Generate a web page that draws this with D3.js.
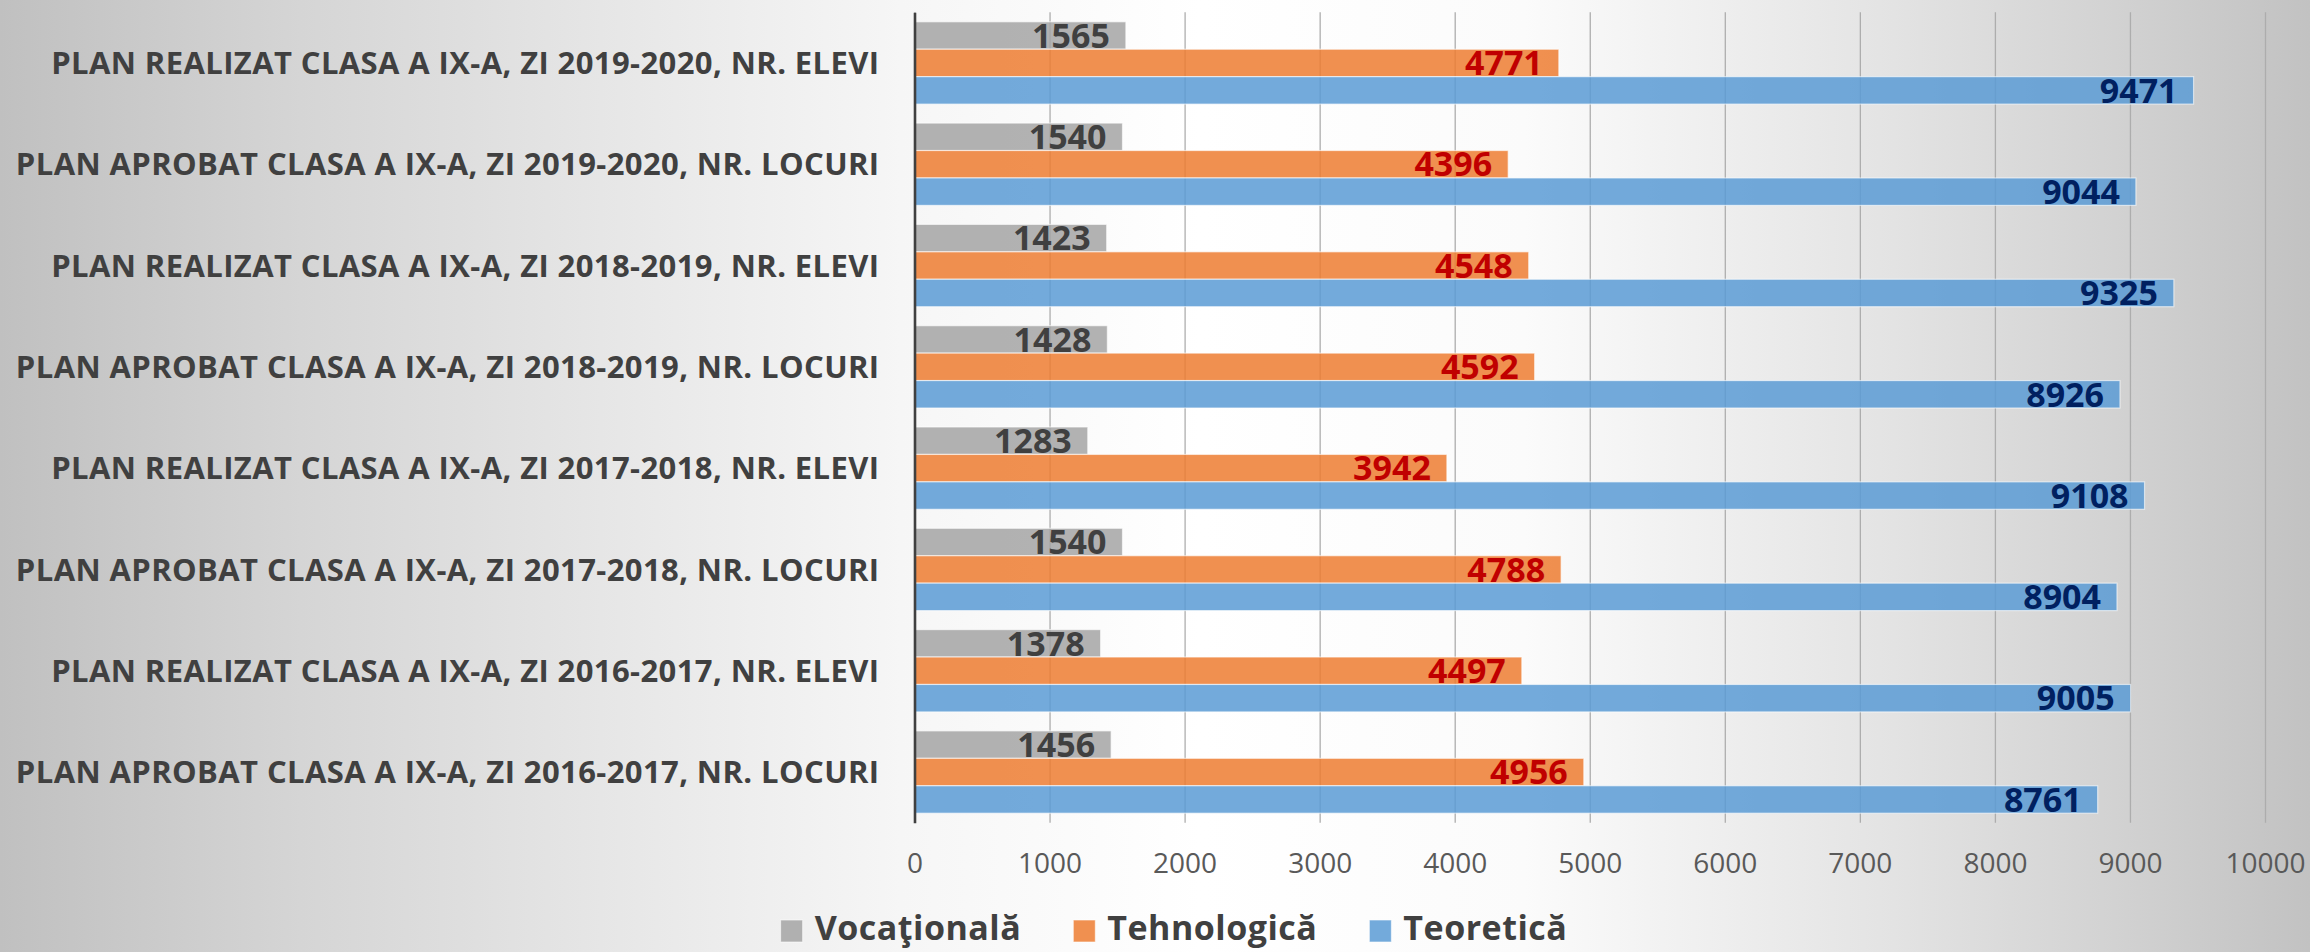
<!DOCTYPE html>
<html><head><meta charset="utf-8">
<script src="https://cdn.jsdelivr.net/npm/d3@7"></script>
<style>
html,body{margin:0;padding:0;overflow:hidden;background:#fff}
svg{display:block}
text{font-family:"Open Sans","Noto Sans",sans-serif}
</style>
</head><body>
<svg id="chart" width="2310" height="952"></svg>
<script>
// ---- data (top to bottom as shown) ----
const categories = [
  "PLAN REALIZAT CLASA A IX-A, ZI 2019-2020, NR. ELEVI",
  "PLAN APROBAT CLASA A IX-A, ZI 2019-2020, NR. LOCURI",
  "PLAN REALIZAT CLASA A IX-A, ZI 2018-2019, NR. ELEVI",
  "PLAN APROBAT CLASA A IX-A, ZI 2018-2019, NR. LOCURI",
  "PLAN REALIZAT CLASA A IX-A, ZI 2017-2018, NR. ELEVI",
  "PLAN APROBAT CLASA A IX-A, ZI 2017-2018, NR. LOCURI",
  "PLAN REALIZAT CLASA A IX-A, ZI 2016-2017, NR. ELEVI",
  "PLAN APROBAT CLASA A IX-A, ZI 2016-2017, NR. LOCURI"
];
const seriesNames = ["Vocaţională", "Tehnologică", "Teoretică"];
const vocationala = [1565, 1540, 1423, 1428, 1283, 1540, 1378, 1456];
const tehnologica = [4771, 4396, 4548, 4592, 3942, 4788, 4497, 4956];
const teoretica   = [9471, 9044, 9325, 8926, 9108, 8904, 9005, 8761];
const xTicks = [0, 1000, 2000, 3000, 4000, 5000, 6000, 7000, 8000, 9000, 10000];

// ---- styles ----
const barColors = ["#a5a5a5", "#ed7d31", "#5b9bd5"];
const labelColors = ["#404040", "#c00000", "#002060"];
const seriesValues = [vocationala, tehnologica, teoretica];

const W = 2310, H = 952;
const svg = d3.select("#chart");
const defs = svg.append("defs");
const bg = defs.append("linearGradient").attr("id", "bg").attr("x1", 0).attr("x2", 1).attr("y1", 0).attr("y2", 0);
[[0, "#c0c0c0"], [0.13, "#d5d5d5"], [0.26, "#e6e6e6"], [0.39, "#f6f6f6"], [0.52, "#ffffff"],
 [0.66, "#fbfbfb"], [0.82, "#e3e3e3"], [0.91, "#d3d3d3"], [1, "#c2c2c2"]]
  .forEach(s => bg.append("stop").attr("offset", s[0]).attr("stop-color", s[1]));
svg.append("rect").attr("width", W).attr("height", H).attr("fill", "url(#bg)");

const x = d3.scaleLinear().domain([0, 10000]).range([914.5, 2265]);
const y = d3.scaleBand().domain(categories).range([12.3, 822.7]).paddingInner(0.1876).paddingOuter(0.0938);
const ys = d3.scaleBand().domain(seriesNames).range([0, y.bandwidth()]);

// grid + x tick labels
const gx = svg.append("g").attr("transform", `translate(0,${822.7})`)
  .call(d3.axisBottom(x).tickValues(xTicks).tickFormat(d3.format("d"))
    .tickSize(-(822.7 - 12.3)).tickSizeOuter(0).tickPadding(0));
gx.select(".domain").remove();
gx.selectAll(".tick line").attr("stroke", "#adadad").attr("stroke-width", 1.3);
gx.selectAll(".tick text").attr("y", 41).attr("dy", "0.35em").attr("fill", "#595959")
  .style("font-size", "28px").style("font-family", '"Open Sans",sans-serif');

// bars
const rows = categories.map((c, i) => ({c, vals: seriesValues.map(s => s[i])}));
const grp = svg.append("g").selectAll("g").data(rows).join("g")
  .attr("transform", d => `translate(0,${y(d.c)})`);
grp.selectAll("rect").data(d => d.vals.map((v, k) => ({v, k}))).join("rect")
  .attr("x", x(0)).attr("y", d => ys(seriesNames[d.k]))
  .attr("width", d => x(d.v) - x(0)).attr("height", ys.bandwidth())
  .attr("fill", d => barColors[d.k]).attr("fill-opacity", 0.85)
  .attr("stroke", "#ffffff").attr("stroke-opacity", 0.6).attr("stroke-width", 1.2);
grp.selectAll("text").data(d => d.vals.map((v, k) => ({v, k}))).join("text")
  .attr("x", d => x(d.v) - 16).attr("y", d => ys(seriesNames[d.k]) + ys.bandwidth() / 2)
  .attr("dy", "0.36em").attr("text-anchor", "end")
  .attr("fill", d => labelColors[d.k])
  .style("font-size", "34px").style("font-weight", "bold")
  .text(d => d.v);

// y axis
const gy = svg.append("g").attr("transform", `translate(${x(0)},0)`)
  .call(d3.axisLeft(y).tickSize(0).tickSizeOuter(0).tickPadding(35));
gy.select(".domain").attr("stroke", "#404040").attr("stroke-width", 2.6);
gy.selectAll(".tick text").attr("fill", "#404040").attr("dy", "0.36em")
  .style("font-size", "31px").style("font-weight", "bold").style("letter-spacing", "0.4px")
  .style("font-family", '"Open Sans",sans-serif');

// legend
const lg = svg.append("g");
const items = lg.selectAll("g").data(seriesNames).join("g");
items.append("rect").attr("width", 22).attr("height", 22).attr("y", 920)
  .attr("fill", (d, i) => barColors[i]).attr("fill-opacity", 0.85)
  .attr("stroke", "#fff").attr("stroke-opacity", 0.6);
items.append("text").attr("x", 34).attr("y", 940)
  .attr("fill", "#404040").style("font-size", "34px").style("font-weight", "bold")
  .style("letter-spacing", "0.5px")
  .text(d => d);
let widths = [];
items.each(function() { widths.push(d3.select(this).select("text").node().getComputedTextLength()); });
const gap = 52;
const total = widths.reduce((a, w) => a + 34 + w, 0) + gap * (widths.length - 1);
let cx = 1174 - total / 2;
items.attr("transform", (d, i) => { const t = `translate(${cx},0)`; cx += 34 + widths[i] + gap; return t; });
</script>
</body></html>
